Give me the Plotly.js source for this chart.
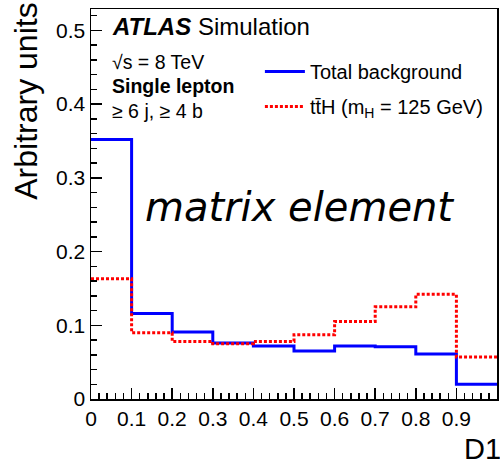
<!DOCTYPE html>
<html>
<head>
<meta charset="utf-8">
<script src="https://cdn.plot.ly/plotly-3.0.1.min.js"></script>
<style>
  html, body { margin: 0; padding: 0; background: #ffffff; }
  #plot { width: 500px; height: 466px; }
</style>
</head>
<body>
<div id="plot"></div>
<script>
// Bin edges of the D1 discriminant
const binEdges = [0, 0.1, 0.2, 0.3, 0.4, 0.5, 0.6, 0.7, 0.8, 0.9, 1.0];

// Normalised bin contents (one value per bin)
const totalBackground = [0.352, 0.116, 0.091, 0.076, 0.072, 0.065, 0.072, 0.071, 0.061, 0.020];
const ttH = [0.163, 0.090, 0.078, 0.075, 0.078, 0.087, 0.105, 0.125, 0.142, 0.057];

// Axis ranges and tick spacing (major / minor)
const xRange = [0, 1];
const yRange = [0, 0.529];
const majorStep = 0.1;
const minorStep = 0.02;

// Step histogram: repeat the last bin content so the final bin is drawn to the upper edge
function stepY(contents) {
  return contents.concat([contents[contents.length - 1]]);
}

const FONT = 'Liberation Sans, Arial, Helvetica, sans-serif';

const traces = [
  {
    name: 'Total background',
    x: binEdges,
    y: stepY(totalBackground),
    type: 'scatter',
    mode: 'lines',
    line: { shape: 'hv', color: '#0000ff', width: 3 },
    legendgroup: 'bkg'
  },
  {
    name: 'tt\u0304H (m<sub>H</sub> = 125 GeV)',
    x: binEdges,
    y: stepY(ttH),
    type: 'scatter',
    mode: 'lines',
    line: { shape: 'hv', color: '#ff0000', width: 3, dash: '3px,2px' },
    legendgroup: 'sig'
  }
];

function axis(range) {
  return {
    range: range,
    dtick: majorStep,
    ticks: 'inside',
    ticklen: 11,
    tickwidth: 1.5,
    tickcolor: '#000000',
    showline: true,
    linecolor: '#000000',
    linewidth: 1.5,
    mirror: true,
    showgrid: false,
    zeroline: false,
    tickfont: { family: FONT, size: 21, color: '#000000' },
    minor: { dtick: minorStep, ticks: 'inside', ticklen: 6, tickwidth: 1.5, tickcolor: '#000000' }
  };
}

const layout = {
  width: 500,
  height: 466,
  margin: { l: 91, r: 3, t: 9, b: 67 },
  showlegend: true,
  xaxis: axis(xRange),
  yaxis: axis(yRange),
  legend: {
    x: 0.416, y: 0.89, xanchor: 'left', yanchor: 'top',
    bgcolor: 'rgba(0,0,0,0)', borderwidth: 0,
    font: { family: FONT, size: 20, color: '#000000' },
    itemwidth: 40,
    tracegroupgap: 6
  },
  annotations: [
    {
      text: '<b><i>ATLAS</i></b> Simulation',
      xref: 'paper', yref: 'paper', x: 0.047, y: 0.956,
      xanchor: 'left', yanchor: 'middle', showarrow: false,
      font: { family: FONT, size: 24, color: '#000000' }
    },
    {
      text: '\u221As = 8 TeV',
      xref: 'paper', yref: 'paper', x: 0.047, y: 0.865,
      xanchor: 'left', yanchor: 'middle', showarrow: false,
      font: { family: FONT, size: 19.5, color: '#000000' }
    },
    {
      text: '<b>Single lepton</b>',
      xref: 'paper', yref: 'paper', x: 0.047, y: 0.803,
      xanchor: 'left', yanchor: 'middle', showarrow: false,
      font: { family: FONT, size: 19.5, color: '#000000' }
    },
    {
      text: '\u2265 6 j, \u2265 4 b',
      xref: 'paper', yref: 'paper', x: 0.047, y: 0.739,
      xanchor: 'left', yanchor: 'middle', showarrow: false,
      font: { family: FONT, size: 19.5, color: '#000000' }
    },
    {
      text: 'matrix element',
      xref: 'paper', yref: 'paper', x: 0.513, y: 0.492,
      xanchor: 'center', yanchor: 'middle', showarrow: false,
      font: { family: 'DejaVu Sans', size: 40, style: 'italic', color: '#000000' }
    },
    {
      text: 'Arbitrary units',
      xref: 'paper', yref: 'paper', x: -0.16, y: 1.02,
      xanchor: 'center', yanchor: 'top', textangle: -90, showarrow: false,
      font: { family: FONT, size: 32, color: '#000000' }
    },
    {
      text: 'D1',
      xref: 'paper', yref: 'paper', x: 1.016, y: -0.127,
      xanchor: 'right', yanchor: 'middle', showarrow: false,
      font: { family: FONT, size: 29, color: '#000000' }
    }
  ]
};

Plotly.newPlot('plot', traces, layout, { staticPlot: true, displayModeBar: false });
</script>
</body>
</html>
